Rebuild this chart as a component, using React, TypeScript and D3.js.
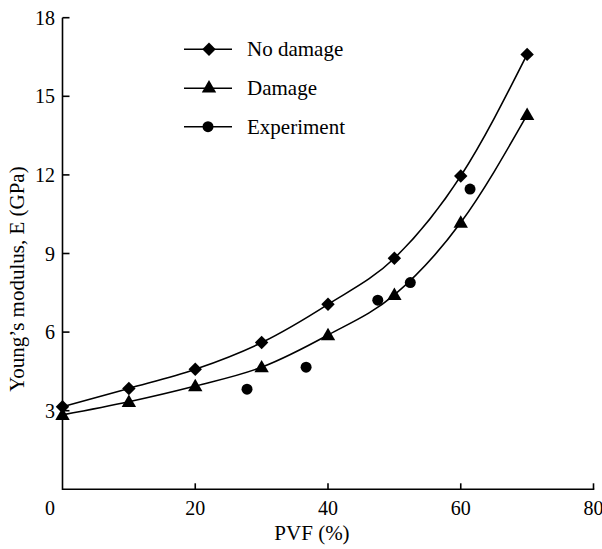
import * as d3 from "d3";
import { useEffect, useRef } from "react";

// 数据
const pvf = [0, 10, 20, 30, 40, 50, 60, 70];
const noDamage = [3.15, 3.85, 4.58, 5.6, 7.06, 8.82, 11.96, 16.6];
const damage = [2.84, 3.34, 3.94, 4.66, 5.89, 7.42, 10.18, 14.29];
const expPvf = [27.8, 36.7, 47.5, 52.4, 61.4];
const expE = [3.82, 4.66, 7.22, 7.89, 11.46];
const xTicks = [20, 40, 60, 80];
const yTicks = [3, 6, 9, 12, 15, 18];

const W = 602;
const H = 549;
const font = "'Liberation Serif', 'Times New Roman', serif";

export default function App() {
  const svgRef = useRef<SVGSVGElement>(null);

  useEffect(() => {
    if (!svgRef.current) return;
    const svg = d3.select(svgRef.current);
    svg.selectAll("*").remove();

    const x = d3.scaleLinear().domain([0, 80]).range([62.5, 593.5]);
    const y = d3.scaleLinear().domain([0, 18]).range([489.3, 17.7]);

    // --- 坐标轴 ---
    const axis = svg.append("g").attr("stroke", "#000").attr("stroke-width", 1.6);
    axis.append("line").attr("x1", x(0)).attr("x2", x(80) + 0.8).attr("y1", y(0)).attr("y2", y(0));
    axis.append("line").attr("x1", x(0)).attr("x2", x(0)).attr("y1", y(0) + 0.8).attr("y2", y(18));
    xTicks.forEach((t) => {
      axis.append("line").attr("x1", x(t)).attr("x2", x(t)).attr("y1", y(0)).attr("y2", y(0) - 6);
    });
    yTicks.forEach((t) => {
      axis.append("line").attr("x1", x(0)).attr("x2", x(0) + 7).attr("y1", y(t)).attr("y2", y(t));
    });

    const txt = svg.append("g").attr("font-family", font).attr("fill", "#000");
    txt.append("text").attr("x", 50).attr("y", 515).attr("font-size", 20).attr("text-anchor", "middle").text("0");
    xTicks.forEach((t) => {
      txt.append("text").attr("x", x(t)).attr("y", 515).attr("font-size", 20).attr("text-anchor", "middle").text(t);
    });
    yTicks.forEach((t) => {
      txt.append("text").attr("x", 55).attr("y", y(t) + 7).attr("font-size", 20).attr("text-anchor", "end").text(t);
    });
    txt.append("text").attr("x", 312).attr("y", 540).attr("font-size", 21).attr("text-anchor", "middle").text("PVF (%)");
    txt.append("text")
      .attr("transform", `translate(24,279) rotate(-90)`)
      .attr("font-size", 21)
      .attr("text-anchor", "middle")
      .text("Young\u2019s modulus, E (GPa)");

    // --- 曲线 ---
    const line = d3
      .line<[number, number]>()
      .x((d) => x(d[0]))
      .y((d) => y(d[1]))
      .curve(d3.curveMonotoneX);

    const series = [noDamage, damage];
    series.forEach((vals) => {
      svg.append("path")
        .attr("d", line(pvf.map((p, i) => [p, vals[i]] as [number, number])))
        .attr("fill", "none")
        .attr("stroke", "#000")
        .attr("stroke-width", 1.6);
    });

    const diamond = d3.symbol().type(d3.symbolDiamond2).size(115);
    const triangle = d3.symbol().type(d3.symbolTriangle).size(90);

    svg.selectAll(".nd").data(pvf).enter().append("path")
      .attr("transform", (d, i) => `translate(${x(d)},${y(noDamage[i])})`)
      .attr("d", diamond()!);
    svg.selectAll(".dm").data(pvf).enter().append("path")
      .attr("transform", (d, i) => `translate(${x(d)},${y(damage[i]) + 1})`)
      .attr("d", triangle()!);
    svg.selectAll(".ex").data(expPvf).enter().append("circle")
      .attr("cx", (d) => x(d))
      .attr("cy", (_, i) => y(expE[i]))
      .attr("r", 5.5);

    // --- 图例 ---
    const legend = [
      { label: "No damage", sym: diamond()!, y: 49.3 },
      { label: "Damage", sym: triangle()!, y: 88.3 },
      { label: "Experiment", sym: "circle", y: 126.7 },
    ];
    legend.forEach((l) => {
      svg.append("line").attr("x1", 184).attr("x2", 232).attr("y1", l.y).attr("y2", l.y)
        .attr("stroke", "#000").attr("stroke-width", 1.6);
      if (l.sym === "circle") {
        svg.append("circle").attr("cx", 208).attr("cy", l.y).attr("r", 5.5);
      } else {
        svg.append("path").attr("transform", `translate(209,${l.y})`).attr("d", l.sym);
      }
      txt.append("text").attr("x", 247).attr("y", l.y + 7).attr("font-size", 21).text(l.label);
    });
  }, []);

  return (
    <div style={{ position: "fixed", left: 0, top: 0, width: W, height: H, background: "#fff" }}>
      <svg ref={svgRef} width={W} height={H} style={{ display: "block" }} />
    </div>
  );
}
